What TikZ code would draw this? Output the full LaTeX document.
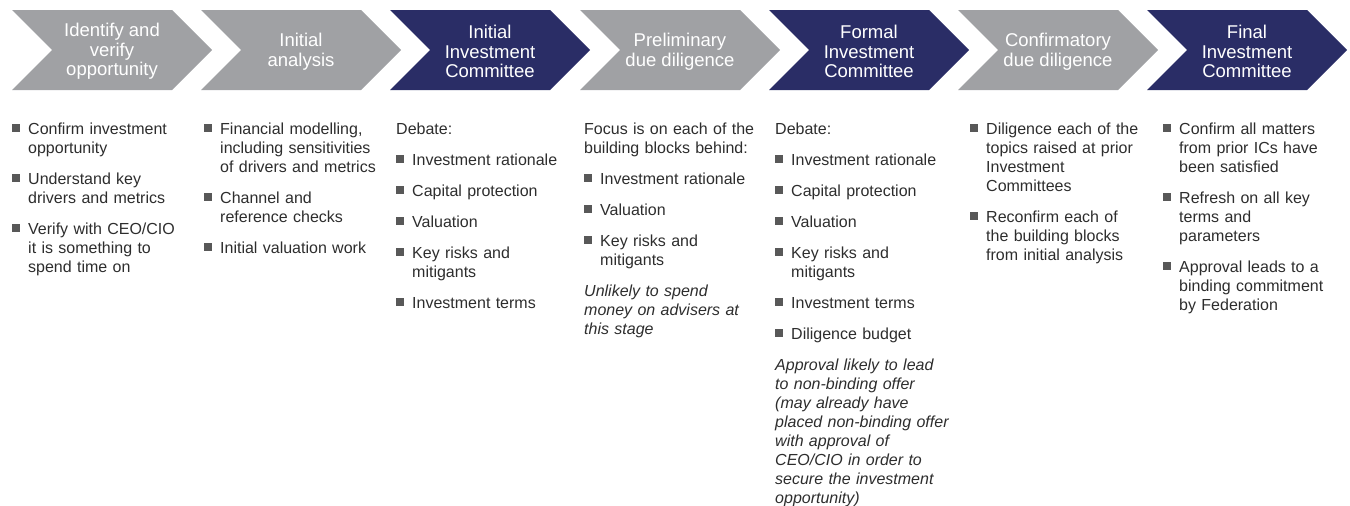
\documentclass[tikz,border=0pt]{standalone}
\usepackage{fontspec}
\setmainfont{Liberation Sans}
\definecolor{cgray}{RGB}{160,161,164}
\definecolor{cnavy}{RGB}{42,45,102}
\definecolor{ctext}{RGB}{45,45,45}
\definecolor{cbullet}{RGB}{88,88,88}
\newcommand\bul{\makebox[16pt][l]{\textcolor{cbullet}{\raisebox{2pt}{\rule{8pt}{8pt}}}}}
\newcommand\fitm{\hangindent=16pt\hangafter=1\noindent\bul}
\newcommand\itm{\par\fitm}
\newcommand\chev[4]{%
  \fill[#2] (#1,10) -- ++(160,0) -- ++(40,40) -- ++(-40,40) -- ++(-160,0) -- ++(40,-40) -- cycle;
  \node[stagetext] (#3) at ({#1+100},51.5) {#4};}
\tikzset{
  stagetext/.style={text=white, align=center, inner sep=0pt, font=\fontsize{18.5}{19.5}\selectfont},
  body/.style={anchor=north west, inner sep=0pt, text width=180pt, align=left, text=ctext,
    font=\fontsize{16}{19}\selectfont,
    execute at begin node={\setlength{\parskip}{12pt}\setlength{\parindent}{0pt}}}
}
\begin{document}
\begin{tikzpicture}[x=1pt,y=-1pt]
\useasboundingbox (0,0) rectangle (1350,506);
\chev{12}{cgray}{s1}{Identify and\\verify\\opportunity}
\chev{201}{cgray}{s2}{Initial\\analysis}
\chev{390}{cnavy}{s3}{Initial\\Investment\\Committee}
\chev{580}{cgray}{s4}{Preliminary\\due diligence}
\chev{769}{cnavy}{s5}{Formal\\Investment\\Committee}
\chev{958}{cgray}{s6}{Confirmatory\\due diligence}
\chev{1147}{cnavy}{s7}{Final\\Investment\\Committee}

\node[body] (b1) at (12,122.5) {%
\fitm Confirm investment\newline opportunity
\itm Understand key\newline drivers and metrics
\itm Verify with CEO/CIO\newline it is something to\newline spend time on\par};

\node[body] (b2) at (204,122.5) {%
\fitm Financial modelling,\newline including sensitivities\newline of drivers and metrics
\itm Channel and\newline reference checks
\itm Initial valuation work\par};

\node[body] (b3) at (396,122.5) {%
Debate:
\itm Investment rationale
\itm Capital protection
\itm Valuation
\itm Key risks and\newline mitigants
\itm Investment terms\par};

\node[body] (b4) at (584,122.5) {%
Focus is on each of the\newline building blocks behind:
\itm Investment rationale
\itm Valuation
\itm Key risks and\newline mitigants
\par\noindent\textit{Unlikely to spend\newline money on advisers at\newline this stage}\par};

\node[body] (b5) at (775,122.5) {%
Debate:
\itm Investment rationale
\itm Capital protection
\itm Valuation
\itm Key risks and\newline mitigants
\itm Investment terms
\itm Diligence budget
\par\noindent\textit{Approval likely to lead\newline to non-binding offer\newline (may already have\newline placed non-binding offer\newline with approval of\newline CEO/CIO in order to\newline secure the investment\newline opportunity)}\par};

\node[body] (b6) at (970,122.5) {%
\fitm Diligence each of the\newline topics raised at prior\newline Investment\newline Committees
\itm Reconfirm each of\newline the building blocks\newline from initial analysis\par};

\node[body] (b7) at (1163,122.5) {%
\fitm Confirm all matters\newline from prior ICs have\newline been satisfied
\itm Refresh on all key\newline terms and\newline parameters
\itm Approval leads to a\newline binding commitment\newline by Federation\par};
\end{tikzpicture}
\end{document}
